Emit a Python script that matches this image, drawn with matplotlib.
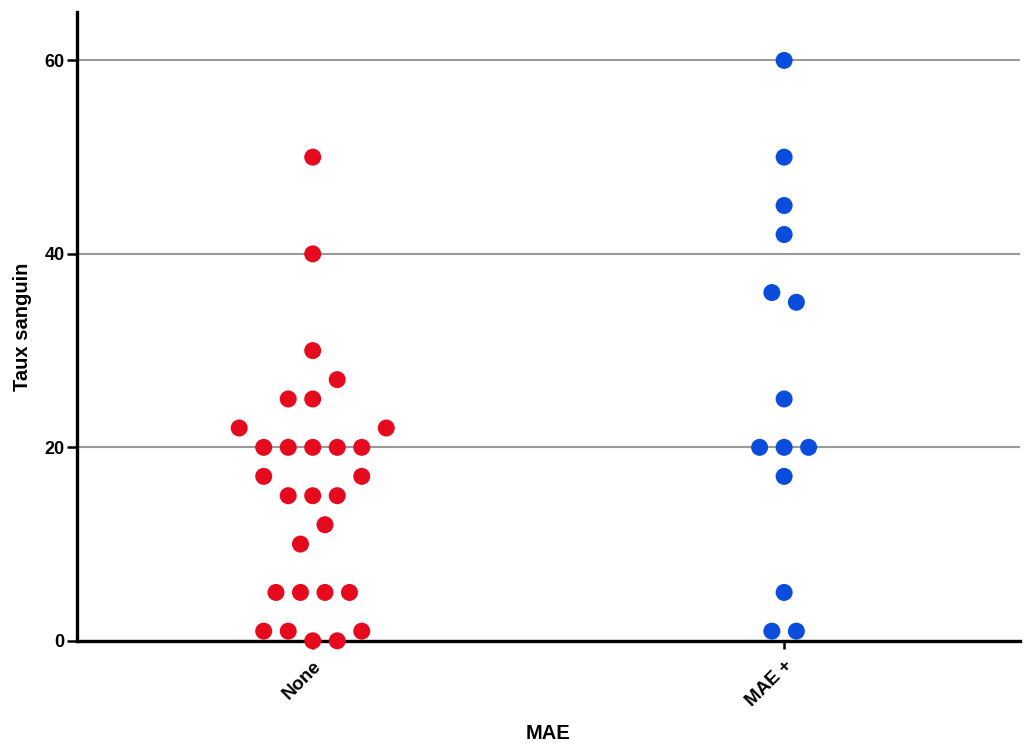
import numpy as np
import matplotlib.pyplot as plt

plt.rcParams['font.family'] = ['Liberation Sans', 'DejaVu Sans']

groups = ["None", "MAE +"]
none_vals = [50, 40, 30, 25, 25, 27, 20, 20, 20, 20, 20, 22, 22,
             15, 15, 15, 17, 17, 10, 12, 5, 5, 5, 5, 0, 1, 0, 1, 1]
mae_vals = [60, 50, 45, 42, 36, 35, 25, 20, 20, 20, 17, 5, 1, 1]
colors = ["#E60A1E", "#0A4CDC"]
yticks = [0, 20, 40, 60]


def dot_offsets(vals, gap=2):
    # chain values closer than `gap` into one row, then spread each row
    # outward from the centre: 0, -1, +1, -2, +2 ... (half steps for even rows)
    vals = np.asarray(vals, dtype=float)
    order = np.argsort(vals, kind="stable")
    rows, cur = [], [order[0]]
    for a, b in zip(order[:-1], order[1:]):
        if vals[b] - vals[a] <= gap:
            cur.append(b)
        else:
            rows.append(cur)
            cur = [b]
    rows.append(cur)
    # keep the data order inside a row
    offs = np.zeros(len(vals))
    for row in rows:
        row = sorted(row)
        n = len(row)
        if n % 2:
            slots = [0.0] + [s * k for k in range(1, n // 2 + 1) for s in (-1, 1)]
        else:
            slots = [s * (k - 0.5) for k in range(1, n // 2 + 1) for s in (-1, 1)]
        for idx, sl in zip(row, slots):
            offs[idx] = sl
    return offs


fig = plt.figure(figsize=(10.27, 7.53), dpi=100)
ax = fig.add_axes([0.075, 0.149, 0.918, 0.835])

step = 0.052
for i, vals in enumerate([none_vals, mae_vals]):
    x = i + dot_offsets(vals) * step
    ax.scatter(x, vals, s=150, color=colors[i], edgecolors='none',
               zorder=5, clip_on=False)

ax.set_xlim(-0.5, 1.5)
ax.set_ylim(0, 65)
ax.set_yticks(yticks)
ax.set_xticks([0, 1])
ax.set_xticklabels(groups, rotation=45, ha='right', va='top',
                   rotation_mode='anchor', fontsize=13.5, fontweight='bold')
ax.tick_params(axis='y', labelsize=13, width=1.8, length=7, direction='out', pad=2)
ax.tick_params(axis='x', width=1.8, length=6, direction='out', pad=6)
for lab in ax.get_yticklabels():
    lab.set_fontweight('bold')

ax.grid(axis='y', color='#9a9a9a', linewidth=1.5, zorder=0)
ax.set_axisbelow(True)
for side in ['top', 'right']:
    ax.spines[side].set_visible(False)
for side in ['left', 'bottom']:
    ax.spines[side].set_linewidth(2.4)
    ax.spines[side].set_zorder(3)

ax.set_ylabel("Taux sanguin", fontsize=14.5, fontweight='bold', va='center')
ax.yaxis.set_label_coords(-0.058, 0.5)
ax.set_xlabel("MAE", fontsize=14.5, fontweight='bold', va='center')
ax.xaxis.set_label_coords(0.5, -0.147)

fig.savefig("out.png", dpi=100)
